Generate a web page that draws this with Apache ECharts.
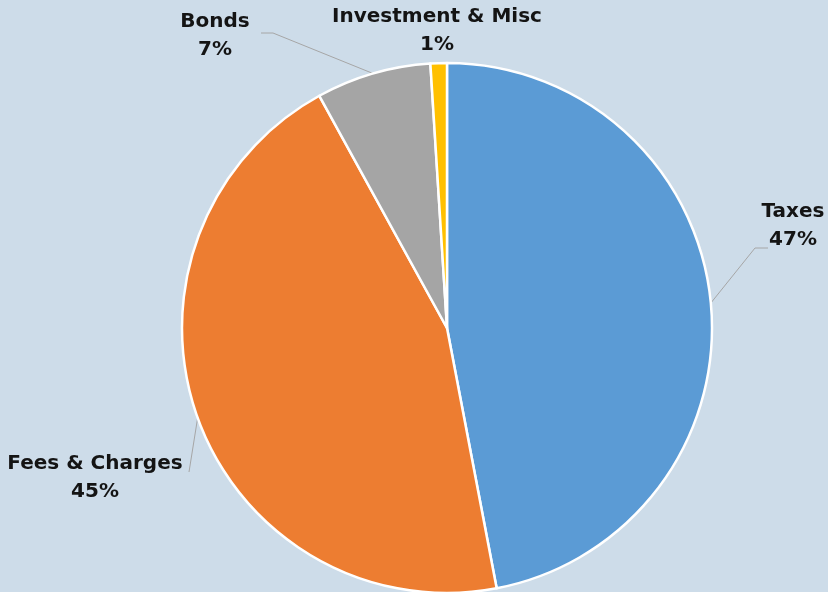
<!DOCTYPE html>
<html>
<head>
<meta charset="utf-8">
<script src="https://cdn.jsdelivr.net/npm/echarts@6/dist/echarts.min.js"></script>
<style>
  html, body { margin: 0; padding: 0; background: #CDDCE9; }
  #chart { width: 828px; height: 592px; }
</style>
</head>
<body>
<div id="chart"></div>
<script>
// Revenue sources (percent)
const categories = ['Taxes', 'Fees & Charges', 'Bonds', 'Investment & Misc'];
const values = [47, 45, 7, 1];
const colors = ['#5B9BD5', '#ED7D31', '#A5A5A5', '#FFC000'];

// Label placement: text anchor (centre of the two-line block) and leader bend points
const labelSpots = {
  'Taxes':             { x: 793, y: 226, line: [[755, 248], [768, 248]] },
  'Fees & Charges':    { x: 95,  y: 478, line: [[189, 472]] },
  'Bonds':             { x: 215, y: 36,  line: [[273, 33], [261, 33]] },
  'Investment & Misc': { x: 437, y: 31,  line: null }
};

const chart = echarts.init(document.getElementById('chart'));
chart.setOption({
  backgroundColor: '#CDDCE9',
  animation: false,
  series: [{
    type: 'pie',
    center: [447, 328],
    radius: 265,
    startAngle: 90,
    clockwise: true,
    data: categories.map((name, i) => ({
      name: name,
      value: values[i],
      itemStyle: { color: colors[i] }
    })),
    itemStyle: { borderColor: '#FFFFFF', borderWidth: 2.5 },
    label: {
      show: true,
      position: 'outside',
      formatter: '{b}\n{c}%',
      fontFamily: 'DejaVu Sans',
      fontWeight: 'bold',
      fontSize: 20,
      lineHeight: 28,
      color: '#141414',
      align: 'center',
      overflow: 'none'
    },
    labelLine: {
      show: true,
      lineStyle: { color: '#A6A6A6', width: 1 }
    },
    labelLayout: function (params) {
      const spot = labelSpots[categories[params.dataIndex]];
      const out = {
        x: spot.x,
        y: spot.y,
        align: 'center',
        verticalAlign: 'middle',
        width: 260
      };
      const start = params.labelLinePoints && params.labelLinePoints[0];
      if (spot.line && start) {
        out.labelLinePoints = [start].concat(spot.line);
        if (out.labelLinePoints.length === 2) out.labelLinePoints.push(spot.line[0]);
      } else {
        out.labelLinePoints = start ? [start, start, start] : undefined;
      }
      return out;
    }
  }]
});
</script>
</body>
</html>
